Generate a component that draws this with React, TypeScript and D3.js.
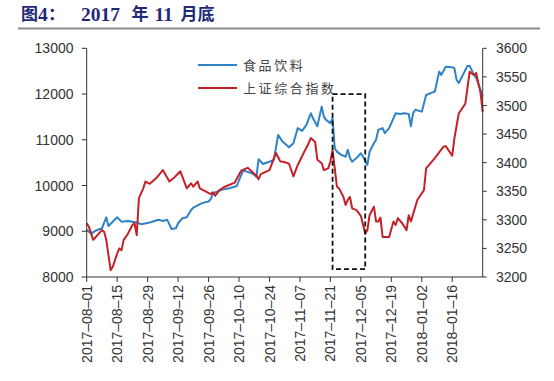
import React from "react";
import * as d3 from "d3";

// ---- data ----
const xTickLabels = [
  "2017-08-01", "2017-08-15", "2017-08-29", "2017-09-12", "2017-09-26", "2017-10-10",
  "2017-10-24", "2017-11-07", "2017-11-21", "2017-12-05", "2017-12-19", "2018-01-02", "2018-01-16",
];
const leftTicks = [8000, 9000, 10000, 11000, 12000, 13000];
const rightTicks = [3200, 3250, 3300, 3350, 3400, 3450, 3500, 3550, 3600];
const xDomain = ["2017-08-01", "2018-01-30"];

const seriesNames = ["食品饮料", "上证综合指数"];

const foodDates = [
  "2017-08-01","2017-08-03","2017-08-05","2017-08-08","2017-08-10","2017-08-11","2017-08-15","2017-08-17",
  "2017-08-20","2017-08-24","2017-08-26","2017-08-30","2017-09-03","2017-09-05","2017-09-07","2017-09-09",
  "2017-09-11","2017-09-12","2017-09-14","2017-09-16","2017-09-18","2017-09-19","2017-09-23","2017-09-26",
  "2017-09-27","2017-09-28","2017-10-02","2017-10-06","2017-10-09","2017-10-11","2017-10-12","2017-10-16",
  "2017-10-18","2017-10-19","2017-10-21","2017-10-24","2017-10-26","2017-10-28","2017-10-30","2017-11-02",
  "2017-11-04","2017-11-06","2017-11-08","2017-11-10","2017-11-12","2017-11-13","2017-11-15","2017-11-17",
  "2017-11-18","2017-11-19","2017-11-21","2017-11-22","2017-11-23","2017-11-24","2017-11-26","2017-11-28",
  "2017-11-29","2017-11-30","2017-12-01","2017-12-03","2017-12-05","2017-12-06","2017-12-08","2017-12-09",
  "2017-12-11","2017-12-12","2017-12-13","2017-12-15","2017-12-16","2017-12-18","2017-12-21","2017-12-23",
  "2017-12-25","2017-12-27","2017-12-28","2017-12-29","2017-12-30","2018-01-02","2018-01-04","2018-01-07",
  "2018-01-08","2018-01-10","2018-01-11","2018-01-13","2018-01-16","2018-01-17","2018-01-18","2018-01-19",
  "2018-01-23","2018-01-24","2018-01-26","2018-01-27","2018-01-29","2018-01-30",
];
const foodValues = [
  9030, 8950, 9010, 9065, 9305, 9115, 9305, 9210,
  9225, 9190, 9155, 9190, 9250, 9225, 9250, 9050,
  9065, 9175, 9285, 9305, 9465, 9515, 9615, 9650,
  9700, 9830, 9905, 9945, 9990, 10230, 10325, 10270,
  10190, 10575, 10470, 10520, 10560, 11105, 10960, 10835,
  10925, 11255, 11195, 11325, 11580, 11470, 11295, 11725,
  11505, 11435, 11365, 11470, 10815, 10740, 10670, 10630,
  10780, 10600, 10520, 10600, 10705, 10630, 10450, 10740,
  10925, 11000, 11215, 11255, 11145, 11255, 11580, 11565,
  11580, 11565, 11295, 11580, 11655, 11615, 11980, 12035,
  12055, 12490, 12420, 12595, 12585, 12565, 12310, 12240,
  12615, 12615, 12420, 12350, 12090, 11945,
];

const shDates = [
  "2017-08-01","2017-08-02","2017-08-04","2017-08-08","2017-08-09","2017-08-10","2017-08-12","2017-08-13",
  "2017-08-15","2017-08-16","2017-08-17","2017-08-18","2017-08-19","2017-08-20","2017-08-22","2017-08-23",
  "2017-08-24","2017-08-25","2017-08-27","2017-08-28","2017-08-30","2017-09-02","2017-09-05","2017-09-08",
  "2017-09-10","2017-09-13","2017-09-16","2017-09-18","2017-09-19","2017-09-21","2017-09-22","2017-09-24",
  "2017-09-27","2017-09-28","2017-09-29","2017-10-01","2017-10-03","2017-10-08","2017-10-11","2017-10-14",
  "2017-10-16","2017-10-18","2017-10-19","2017-10-20","2017-10-24","2017-10-27","2017-10-29","2017-10-31",
  "2017-11-02","2017-11-04","2017-11-06","2017-11-09","2017-11-11","2017-11-12","2017-11-14","2017-11-15",
  "2017-11-17","2017-11-18","2017-11-20","2017-11-21","2017-11-22","2017-11-24","2017-11-25","2017-11-27",
  "2017-11-28","2017-11-29","2017-11-30","2017-12-01","2017-12-03","2017-12-05","2017-12-07","2017-12-08",
  "2017-12-09","2017-12-11","2017-12-12","2017-12-13","2017-12-14","2017-12-15","2017-12-18","2017-12-20",
  "2017-12-21","2017-12-22","2017-12-24","2017-12-26","2017-12-27","2017-12-28","2017-12-31","2018-01-03",
  "2018-01-04","2018-01-08","2018-01-12","2018-01-13","2018-01-16","2018-01-17","2018-01-19","2018-01-22",
  "2018-01-24","2018-01-26","2018-01-27","2018-01-29","2018-01-30",
];
const shValues = [
  3294, 3288, 3265, 3282, 3279, 3265, 3212, 3218,
  3241, 3250, 3247, 3265, 3270, 3276, 3291, 3294,
  3273, 3338, 3355, 3367, 3363, 3373, 3387, 3367,
  3373, 3385, 3355, 3364, 3358, 3367, 3355, 3351,
  3345, 3348, 3342, 3352, 3357, 3365, 3386, 3391,
  3384, 3377, 3371, 3380, 3387, 3417, 3402, 3401,
  3398, 3376, 3396, 3419, 3434, 3443, 3436, 3405,
  3399, 3387, 3390, 3402, 3422, 3358, 3355, 3340,
  3326, 3335, 3340, 3320, 3317, 3307, 3276, 3282,
  3308, 3323, 3297, 3297, 3304, 3270, 3270, 3297,
  3291, 3303, 3294, 3282, 3308, 3297, 3335, 3352,
  3390, 3408, 3428, 3429, 3412, 3443, 3486, 3503,
  3559, 3553, 3557, 3522, 3489,
];

// highlighted window (dashed box), in date / left-axis units
const boxDates = ["2017-11-22", "2017-12-07"];
const boxValues = [8170, 12000];

export default function App() {
  const parse = d3.timeParse("%Y-%m-%d");
  const W = 554, H = 381;
  const x0 = 86.7, x1 = 482.7, yTop = 48.3, yBot = 277;

  const x = d3.scaleTime().domain(xDomain.map((s) => parse(s)!)).range([x0, x1]);
  const yL = d3.scaleLinear().domain([8000, 13000]).range([yBot, yTop]);
  const yR = d3.scaleLinear().domain([3200, 3600]).range([yBot, yTop]);

  const food = foodDates.map((d, i) => ({ d: parse(d)!, v: foodValues[i] }));
  const sh = shDates.map((d, i) => ({ d: parse(d)!, v: shValues[i] }));

  const lineL = d3.line<{ d: Date; v: number }>().x((p) => x(p.d)).y((p) => yL(p.v));
  const lineR = d3.line<{ d: Date; v: number }>().x((p) => x(p.d)).y((p) => yR(p.v));

  const blue = "#2f82c6";
  const red = "#c42127";
  const axisColor = "#333";
  const font = "'Liberation Sans', Arial, sans-serif";
  const cjk = "'Noto Sans CJK SC', sans-serif";
  const titleFont = "'Liberation Serif', 'Noto Sans CJK SC', serif";
  const titleColor = "#1f2a78";

  const bx0 = x(parse(boxDates[0])!);
  const bx1 = x(parse(boxDates[1])!);
  const by0 = yL(boxValues[1]);
  const by1 = yL(boxValues[0]);

  return (
    <svg
      width={W}
      height={H}
      style={{ position: "absolute", left: 0, top: 0, background: "#fff" }}
    >
      {/* title */}
      <g fontFamily={titleFont} fontWeight="bold" fill={titleColor}>
        <text x={21} y={20} fontSize={17}>图</text>
        <text x={38} y={20.5} fontSize={19.5}>4</text>
        <text x={48} y={20} fontSize={17}>：</text>
        <text x={81} y={20.5} fontSize={19.5}>2017</text>
        <text x={131.5} y={20} fontSize={17}>年</text>
        <text x={154.5} y={20.5} fontSize={19.5}>11</text>
        <text x={180.5} y={20} fontSize={17}>月底</text>
      </g>
      <line x1={18} x2={540} y1={28.5} y2={28.5} stroke="#8a8a8a" strokeWidth={2.2} />

      {/* lines */}
      <path d={lineL(food) || ""} fill="none" stroke={blue} strokeWidth={2} strokeLinejoin="round" />
      <path d={lineR(sh) || ""} fill="none" stroke={red} strokeWidth={2} strokeLinejoin="round" />

      {/* axes */}
      <g stroke={axisColor} strokeWidth={1}>
        <line x1={x0} x2={x0} y1={yTop} y2={yBot} />
        <line x1={x1} x2={x1} y1={yTop} y2={yBot} />
        <line x1={x0} x2={x1} y1={yBot} y2={yBot} />
        {leftTicks.map((t) => (
          <line key={"lt" + t} x1={x0 - 5} x2={x0} y1={yL(t)} y2={yL(t)} />
        ))}
        {rightTicks.map((t) => (
          <line key={"rt" + t} x1={x1} x2={x1 + 4} y1={yR(t)} y2={yR(t)} />
        ))}
        {xTickLabels.map((s) => (
          <line key={"xt" + s} x1={x(parse(s)!)} x2={x(parse(s)!)} y1={yBot} y2={yBot + 5} />
        ))}
      </g>
      <g fontFamily={font} fontSize={14} fill="#333">
        {leftTicks.map((t) => (
          <text key={"ll" + t} x={73.5} y={yL(t)} dy="0.36em" textAnchor="end">
            {t}
          </text>
        ))}
        {rightTicks.map((t) => (
          <text key={"rl" + t} x={496} y={yR(t)} dy="0.36em" textAnchor="start">
            {t}
          </text>
        ))}
        {xTickLabels.map((s) => {
          const tx = x(parse(s)!);
          return (
            <text
              key={"xl" + s}
              transform={`translate(${tx},${yBot + 8}) rotate(-90)`}
              dy="0.36em"
              textAnchor="end"
            >
              {s.replace(/-/g, "–")}
            </text>
          );
        })}
      </g>

      {/* legend */}
      <line x1={198} x2={237} y1={65} y2={65} stroke={blue} strokeWidth={2} />
      <line x1={198} x2={237} y1={88} y2={88} stroke={red} strokeWidth={2} />
      <g fontFamily={cjk} fontSize={13} fill="#444" letterSpacing={2.6}>
        <text x={243} y={65} dy="0.36em">{seriesNames[0]}</text>
        <text x={243} y={88} dy="0.36em">{seriesNames[1]}</text>
      </g>

      {/* highlighted window */}
      <rect
        x={bx0}
        y={by0}
        width={bx1 - bx0}
        height={by1 - by0}
        fill="none"
        stroke="#111"
        strokeWidth={1.8}
        strokeDasharray="5,3"
      />
    </svg>
  );
}
